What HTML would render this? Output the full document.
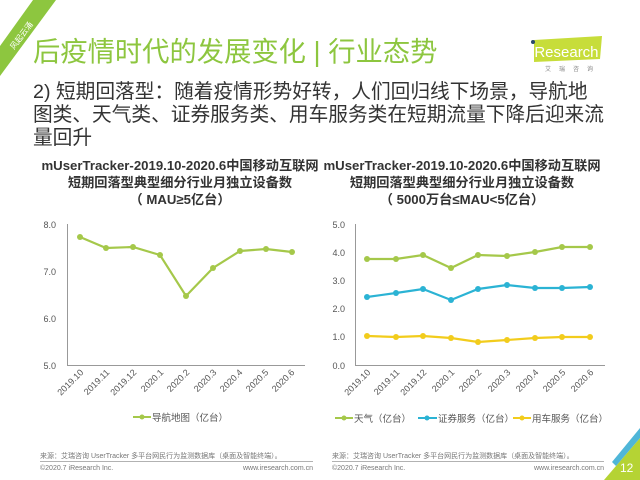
<!DOCTYPE html>
<html><head><meta charset="utf-8"><style>
body{margin:0;width:640px;height:480px;overflow:hidden;background:#fff;position:relative;font-family:"Liberation Sans","Noto Sans CJK SC",sans-serif;}
</style></head><body>
<svg width="640" height="480" style="position:absolute;left:0;top:0" font-family="Liberation Sans, Noto Sans CJK SC, sans-serif">
<polygon points="33,0 56,0 0,76 0,46" fill="#8dc63f"/>
<text x="0" y="0" transform="translate(14,50) rotate(-53)" font-size="8" fill="#fff">风起云涌</text>
<polygon points="604,480 640,438 640,480" fill="#b5d334"/>
<polygon points="612,462 640,428 640,438 616,466" fill="#4fb6d8"/>
<text x="620" y="472" font-size="12" fill="#fff">12</text>
<polygon points="534,40 602,36 600,59 534,62" fill="#c7dd3a"/>
<circle cx="533" cy="42" r="2" fill="#2a4a6a"/>
<text x="531" y="57" font-size="15" fill="#fff">iResearch</text>
<text x="545" y="71" font-size="6" fill="#888" letter-spacing="8">艾瑞咨询</text>

<text x="33" y="61" font-size="27.3" fill="#8dc63f">后疫情时代的发展变化 | 行业态势</text>
<text x="33" y="98" font-size="19.7" fill="#333">2) 短期回落型：随着疫情形势好转，人们回归线下场景，导航地</text>
<text x="33" y="121" font-size="19.7" fill="#333">图类、天气类、证券服务类、用车服务类在短期流量下降后迎来流</text>
<text x="33" y="144" font-size="19.7" fill="#333">量回升</text>

<g font-weight="bold" font-size="13.2" fill="#333" text-anchor="middle">
<text x="180" y="170">mUserTracker-2019.10-2020.6中国移动互联网</text>
<text x="180" y="187">短期回落型典型细分行业月独立设备数</text>
<text x="180" y="204">（ MAU≥5亿台）</text>
<text x="462" y="170">mUserTracker-2019.10-2020.6中国移动互联网</text>
<text x="462" y="187">短期回落型典型细分行业月独立设备数</text>
<text x="462" y="204">（ 5000万台≤MAU&lt;5亿台）</text>
</g>

<g stroke="#999" stroke-width="1" fill="none"><path d="M67.5,224 V365.5 H305"/><path d="M355.5,224 V365.5 H605"/></g>
<g font-size="9" fill="#555" text-anchor="end">
<text x="56" y="228">8.0</text><text x="56" y="275">7.0</text><text x="56" y="322">6.0</text><text x="56" y="369">5.0</text>
<text x="345" y="228">5.0</text><text x="345" y="256">4.0</text><text x="345" y="284">3.0</text><text x="345" y="312">2.0</text><text x="345" y="340">1.0</text><text x="345" y="369">0.0</text>
</g>
<g font-size="9" fill="#555" text-anchor="end">
<text transform="translate(84,373) rotate(-45)">2019.10</text>
<text transform="translate(110,373) rotate(-45)">2019.11</text>
<text transform="translate(137,373) rotate(-45)">2019.12</text>
<text transform="translate(164,373) rotate(-45)">2020.1</text>
<text transform="translate(190,373) rotate(-45)">2020.2</text>
<text transform="translate(217,373) rotate(-45)">2020.3</text>
<text transform="translate(243,373) rotate(-45)">2020.4</text>
<text transform="translate(269,373) rotate(-45)">2020.5</text>
<text transform="translate(295,373) rotate(-45)">2020.6</text>
<text transform="translate(371,373) rotate(-45)">2019.10</text>
<text transform="translate(400,373) rotate(-45)">2019.11</text>
<text transform="translate(427,373) rotate(-45)">2019.12</text>
<text transform="translate(455,373) rotate(-45)">2020.1</text>
<text transform="translate(482,373) rotate(-45)">2020.2</text>
<text transform="translate(511,373) rotate(-45)">2020.3</text>
<text transform="translate(539,373) rotate(-45)">2020.4</text>
<text transform="translate(566,373) rotate(-45)">2020.5</text>
<text transform="translate(594,373) rotate(-45)">2020.6</text>
</g>
<g stroke-width="2.2" fill="none">
<polyline stroke="#a5c84a" points="80,237 106,248 133,247 160,255 186,296 213,268 240,251 266,249 292,252"/>
<polyline stroke="#a5c84a" points="367,259 396,259 423,255 451,268 478,255 507,256 535,252 562,247 590,247"/>
<polyline stroke="#2bb3d4" points="367,297 396,293 423,289 451,300 478,289 507,285 535,288 562,288 590,287"/>
<polyline stroke="#f2cc1c" points="367,336 396,337 423,336 451,338 478,342 507,340 535,338 562,337 590,337"/>
</g>
<g fill="#a5c84a"><circle cx="80" cy="237" r="3"/><circle cx="106" cy="248" r="3"/><circle cx="133" cy="247" r="3"/><circle cx="160" cy="255" r="3"/><circle cx="186" cy="296" r="3"/><circle cx="213" cy="268" r="3"/><circle cx="240" cy="251" r="3"/><circle cx="266" cy="249" r="3"/><circle cx="292" cy="252" r="3"/>
<circle cx="367" cy="259" r="3"/><circle cx="396" cy="259" r="3"/><circle cx="423" cy="255" r="3"/><circle cx="451" cy="268" r="3"/><circle cx="478" cy="255" r="3"/><circle cx="507" cy="256" r="3"/><circle cx="535" cy="252" r="3"/><circle cx="562" cy="247" r="3"/><circle cx="590" cy="247" r="3"/></g>
<g fill="#2bb3d4"><circle cx="367" cy="297" r="3"/><circle cx="396" cy="293" r="3"/><circle cx="423" cy="289" r="3"/><circle cx="451" cy="300" r="3"/><circle cx="478" cy="289" r="3"/><circle cx="507" cy="285" r="3"/><circle cx="535" cy="288" r="3"/><circle cx="562" cy="288" r="3"/><circle cx="590" cy="287" r="3"/></g>
<g fill="#f2cc1c"><circle cx="367" cy="336" r="3"/><circle cx="396" cy="337" r="3"/><circle cx="423" cy="336" r="3"/><circle cx="451" cy="338" r="3"/><circle cx="478" cy="342" r="3"/><circle cx="507" cy="340" r="3"/><circle cx="535" cy="338" r="3"/><circle cx="562" cy="337" r="3"/><circle cx="590" cy="337" r="3"/></g>

<g font-size="9.5" fill="#555">
<line x1="133" y1="417" x2="151" y2="417" stroke="#a5c84a" stroke-width="2"/><circle cx="142" cy="417" r="2.5" fill="#a5c84a"/><text x="152" y="421">导航地图（亿台）</text>
<line x1="335" y1="418" x2="353" y2="418" stroke="#a5c84a" stroke-width="2"/><circle cx="344" cy="418" r="2.5" fill="#a5c84a"/><text x="354" y="422">天气（亿台）</text>
<line x1="418" y1="418" x2="437" y2="418" stroke="#2bb3d4" stroke-width="2"/><circle cx="427" cy="418" r="2.5" fill="#2bb3d4"/><text x="438" y="422">证券服务（亿台）</text>
<line x1="513" y1="418" x2="531" y2="418" stroke="#f2cc1c" stroke-width="2"/><circle cx="522" cy="418" r="2.5" fill="#f2cc1c"/><text x="532" y="422">用车服务（亿台）</text>
</g>
<g font-size="7" fill="#777">
<text x="40" y="458">来源：艾瑞咨询 UserTracker 多平台网民行为监测数据库（桌面及智能终端）。</text>
<text x="40" y="470">©2020.7 iResearch Inc.</text>
<text x="313" y="470" text-anchor="end">www.iresearch.com.cn</text>
<text x="332" y="458">来源：艾瑞咨询 UserTracker 多平台网民行为监测数据库（桌面及智能终端）。</text>
<text x="332" y="470">©2020.7 iResearch Inc.</text>
<text x="604" y="470" text-anchor="end">www.iresearch.com.cn</text>
</g>
<line x1="40" y1="461.5" x2="313" y2="461.5" stroke="#999" stroke-width="0.8"/>
<line x1="332" y1="461.5" x2="604" y2="461.5" stroke="#999" stroke-width="0.8"/>
</svg>
</body></html>
